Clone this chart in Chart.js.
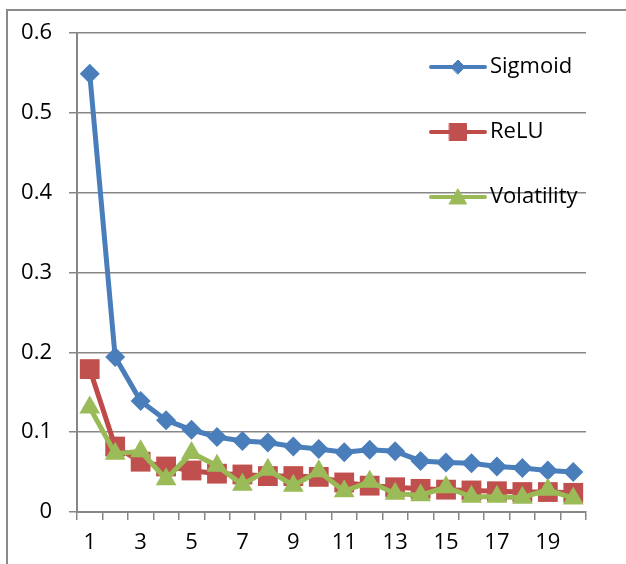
<!DOCTYPE html>
<html>
<head>
<meta charset="utf-8">
<script src="https://cdn.jsdelivr.net/npm/chart.js@4"></script>
<style>
  html, body { margin: 0; padding: 0; background: #fff; }
  #wrap { width: 626px; height: 564px; position: relative; }
</style>
</head>
<body>
<div id="wrap"><canvas id="lossChart" width="626" height="564"></canvas></div>
<script>
var categories = ['1','2','3','4','5','6','7','8','9','10','11','12','13','14','15','16','17','18','19','20'];
var sigmoid = [0.549, 0.194, 0.139, 0.115, 0.103, 0.094, 0.089, 0.087, 0.082, 0.079, 0.075, 0.078, 0.076, 0.064, 0.062, 0.061, 0.057, 0.055, 0.052, 0.050];
var relu = [0.179, 0.082, 0.063, 0.057, 0.052, 0.048, 0.047, 0.045, 0.045, 0.044, 0.037, 0.033, 0.031, 0.029, 0.028, 0.027, 0.026, 0.025, 0.025, 0.024];
var volatility = [0.131, 0.073, 0.076, 0.041, 0.074, 0.058, 0.034, 0.053, 0.033, 0.051, 0.026, 0.038, 0.023, 0.021, 0.031, 0.019, 0.019, 0.018, 0.028, 0.017];
var yTicks = [0, 0.1, 0.2, 0.3, 0.4, 0.5, 0.6];

var gridGray = '#878787';
var fontFamily = "'Open Sans', 'Liberation Sans', sans-serif";

// outer frame (left and top edges only are visible)
var framePlugin = {
    id: 'frame',
    beforeDraw: function(chart) {
        var ctx = chart.ctx;
        ctx.save();
        ctx.strokeStyle = '#8a8a8a';
        ctx.lineWidth = 2;
        ctx.beginPath();
        ctx.moveTo(7, 564);
        ctx.lineTo(7, 10);
        ctx.lineTo(626, 10);
        ctx.stroke();
        ctx.restore();
    }
};

// legend drawn inside the plot area, like the original
var insideLegend = {
    id: 'insideLegend',
    afterDraw: function(chart) {
        var ctx = chart.ctx;
        var rows = [67, 132, 197];
        var markerR = [7, 12, 10];
        ctx.save();
        chart.data.datasets.forEach(function(ds, i) {
            var y = rows[i];
            ctx.strokeStyle = ds.borderColor;
            ctx.lineWidth = 4;
            ctx.lineCap = 'round';
            ctx.beginPath();
            ctx.moveTo(431, y);
            ctx.lineTo(485, y);
            ctx.stroke();
            ctx.fillStyle = ds.pointBackgroundColor;
            ctx.strokeStyle = ds.pointBackgroundColor;
            ctx.lineWidth = 1;
            Chart.helpers.drawPoint(ctx, {
                pointStyle: ds.pointStyle,
                rotation: 0,
                radius: markerR[i],
                borderWidth: 1
            }, 458, y + (ds.pointStyle === 'triangle' ? 2 : 0));
            ctx.fillStyle = '#000';
            ctx.font = '22px ' + fontFamily;
            ctx.textBaseline = 'middle';
            ctx.textAlign = 'left';
            ctx.fillText(ds.label, 490, y);
        });
        ctx.restore();
    }
};

var ctx = document.getElementById('lossChart').getContext('2d');
var myChart = new Chart(ctx, {
    type: 'line',
    data: {
        labels: categories,
        datasets: [{
            label: 'Sigmoid',
            data: sigmoid,
            borderColor: '#4A7EBB',
            backgroundColor: '#4A7EBB',
            pointBackgroundColor: '#4A7EBB',
            pointBorderColor: '#4A7EBB',
            pointStyle: 'rectRot',
            pointRadius: 10,
            pointBorderWidth: 0,
            borderWidth: 5,
            order: 2
        },
        {
            label: 'ReLU',
            data: relu,
            borderColor: '#BE4B48',
            backgroundColor: '#C0504D',
            pointBackgroundColor: '#C0504D',
            pointBorderColor: '#C0504D',
            pointStyle: 'rect',
            pointRadius: 14,
            pointBorderWidth: 0,
            borderWidth: 5,
            order: 1
        },
        {
            label: 'Volatility',
            data: volatility,
            borderColor: '#98B954',
            backgroundColor: '#9BBB59',
            pointBackgroundColor: '#9BBB59',
            pointBorderColor: '#9BBB59',
            pointStyle: 'triangle',
            pointRadius: 12,
            pointBorderWidth: 0,
            borderWidth: 5,
            order: 0
        }]
    },
    options: {
        responsive: false,
        animation: false,
        devicePixelRatio: 1,
        layout: { padding: { left: 0, top: 33, right: 40, bottom: 0 } },
        plugins: {
            legend: { display: false },
            tooltip: { enabled: false }
        },
        scales: {
            x: {
                type: 'category',
                offset: true,
                afterFit: function(scale) { scale.height = 52; },
                grid: {
                    offset: true,
                    drawOnChartArea: false,
                    drawTicks: true,
                    tickLength: 8,
                    color: gridGray,
                    lineWidth: 1.5
                },
                border: { display: true, color: gridGray, width: 2 },
                ticks: {
                    autoSkip: false,
                    maxRotation: 0,
                    padding: 10,
                    color: '#000',
                    font: { family: fontFamily, size: 22 },
                    callback: function(value, index) {
                        return index % 2 === 0 ? categories[index] : '';
                    }
                }
            },
            y: {
                min: yTicks[0],
                max: yTicks[yTicks.length - 1],
                afterFit: function(scale) { scale.width = 77; },
                afterBuildTicks: function(scale) {
                    scale.ticks = yTicks.map(function(v) { return { value: v }; });
                },
                grid: {
                    color: gridGray,
                    lineWidth: 1.5,
                    tickLength: 8
                },
                border: { display: true, color: gridGray, width: 2 },
                ticks: {
                    padding: 17,
                    color: '#000',
                    font: { family: fontFamily, size: 22 },
                    callback: function(value) { return String(value); }
                }
            }
        }
    },
    plugins: [framePlugin, insideLegend]
});
</script>
</body>
</html>
